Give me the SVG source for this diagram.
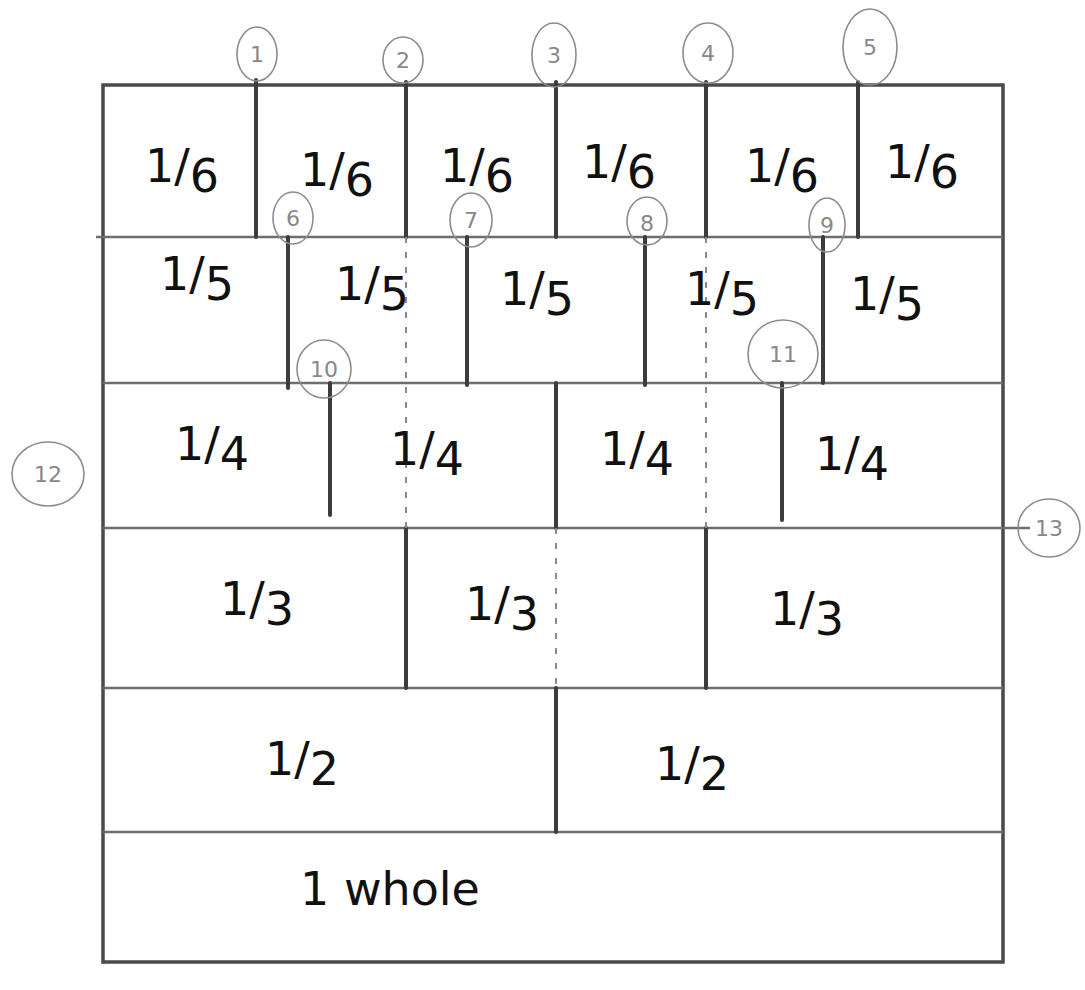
<svg xmlns="http://www.w3.org/2000/svg" width="1085" height="990" viewBox="0 0 1085 990">
<style>
.v{stroke:#3c3c3c;stroke-width:4;fill:none;stroke-linecap:round}
.h{stroke:#6e6e6e;stroke-width:2.5;fill:none}
.o{stroke:#4a4a4a;stroke-width:3.5;fill:none}
.d{stroke:#8a8a8a;stroke-width:2;stroke-dasharray:6 9;fill:none}
.f{font-family:"DejaVu Sans","Liberation Sans",sans-serif;font-size:46px;fill:#111}
.c ellipse{fill:none;stroke:#8c8c8c;stroke-width:1.6}
.c text{font-family:"DejaVu Sans","Liberation Sans",sans-serif;font-size:22px;fill:#888;text-anchor:middle}
</style>
<rect width="1085" height="990" fill="#fff"/>
<g id="connectors">
<path class="o" d="M103 85H1003V962H103Z"/>
<path class="h" d="M96 237H1003M103 383H1003M103 528H1030M103 688H1003M103 832H1003"/>
<path class="v" d="M256 80V237M406 82V237M556 82V237M706 82V237M858 82V237"/>
<path class="v" d="M288 237V388M467 237V385M645 237V385M823 237V383"/>
<path class="v" d="M330 383V515M556 383V528M782 383V520"/>
<path class="v" d="M406 528V688M706 528V688"/>
<path class="v" d="M556 688V832"/>
<path class="d" d="M406 237V528M706 237V528M556 528V688"/>
</g>
<g id="row6"><text class="f" x="300" y="905">1 whole</text></g>
<g id="row1" class="f">
<text x="145" y="182">1<tspan>/</tspan><tspan dy="10">6</tspan></text>
<text x="300" y="186">1<tspan>/</tspan><tspan dy="10">6</tspan></text>
<text x="440" y="182">1<tspan>/</tspan><tspan dy="10">6</tspan></text>
<text x="582" y="178">1<tspan>/</tspan><tspan dy="10">6</tspan></text>
<text x="745" y="182">1<tspan>/</tspan><tspan dy="10">6</tspan></text>
<text x="885" y="178">1<tspan>/</tspan><tspan dy="10">6</tspan></text>
</g>
<g id="row2" class="f">
<text x="160" y="290">1<tspan>/</tspan><tspan dy="10">5</tspan></text>
<text x="335" y="300">1<tspan>/</tspan><tspan dy="10">5</tspan></text>
<text x="500" y="305">1<tspan>/</tspan><tspan dy="10">5</tspan></text>
<text x="685" y="305">1<tspan>/</tspan><tspan dy="10">5</tspan></text>
<text x="850" y="310">1<tspan>/</tspan><tspan dy="10">5</tspan></text>
</g>
<g id="row3" class="f">
<text x="175" y="460">1<tspan>/</tspan><tspan dy="10">4</tspan></text>
<text x="390" y="465">1<tspan>/</tspan><tspan dy="10">4</tspan></text>
<text x="600" y="465">1<tspan>/</tspan><tspan dy="10">4</tspan></text>
<text x="815" y="470">1<tspan>/</tspan><tspan dy="10">4</tspan></text>
</g>
<g id="row4" class="f">
<text x="220" y="615">1<tspan>/</tspan><tspan dy="10">3</tspan></text>
<text x="465" y="620">1<tspan>/</tspan><tspan dy="10">3</tspan></text>
<text x="770" y="625">1<tspan>/</tspan><tspan dy="10">3</tspan></text>
</g>
<g id="row5" class="f">
<text x="265" y="775">1<tspan>/</tspan><tspan dy="10">2</tspan></text>
<text x="655" y="780">1<tspan>/</tspan><tspan dy="10">2</tspan></text>
</g>
<g id="n1" class="c"><ellipse cx="257" cy="54" rx="20" ry="27"/><text x="257" y="62">1</text></g>
<g id="n2" class="c"><ellipse cx="403" cy="60" rx="20" ry="23"/><text x="403" y="68">2</text></g>
<g id="n3" class="c"><ellipse cx="554" cy="55" rx="22" ry="32"/><text x="554" y="63">3</text></g>
<g id="n4" class="c"><ellipse cx="708" cy="53" rx="25" ry="30"/><text x="708" y="61">4</text></g>
<g id="n5" class="c"><ellipse cx="870" cy="47" rx="27" ry="38"/><text x="870" y="55">5</text></g>
<g id="n6" class="c"><ellipse cx="293" cy="218" rx="20" ry="26"/><text x="293" y="226">6</text></g>
<g id="n7" class="c"><ellipse cx="471" cy="220" rx="21" ry="27"/><text x="471" y="228">7</text></g>
<g id="n8" class="c"><ellipse cx="647" cy="221" rx="20" ry="24"/><text x="647" y="231">8</text></g>
<g id="n9" class="c"><ellipse cx="827" cy="225" rx="18" ry="27"/><text x="827" y="233">9</text></g>
<g id="n10" class="c"><ellipse cx="324" cy="369" rx="27" ry="29"/><text x="324" y="377">10</text></g>
<g id="n11" class="c"><ellipse cx="783" cy="354" rx="35" ry="34"/><text x="783" y="362">11</text></g>
<g id="n12" class="c"><ellipse cx="48" cy="474" rx="36" ry="32"/><text x="48" y="482">12</text></g>
<g id="n13" class="c"><ellipse cx="1049" cy="528" rx="31" ry="29"/><text x="1049" y="536">13</text></g>
</svg>
